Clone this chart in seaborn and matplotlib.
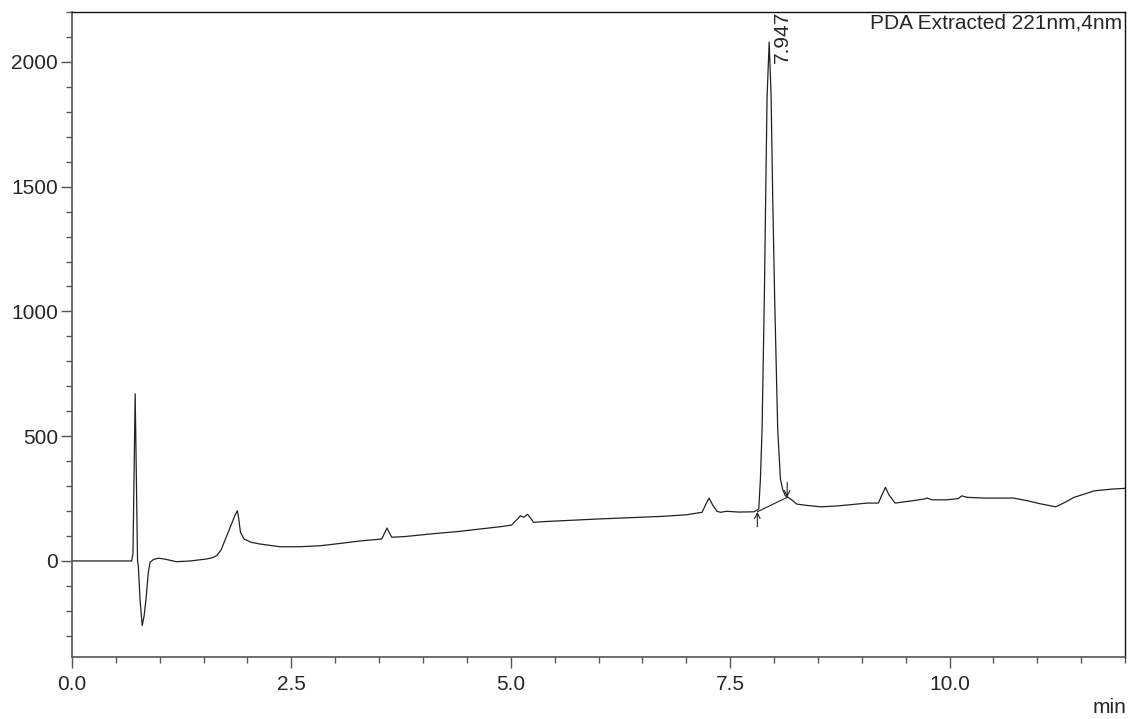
import matplotlib
matplotlib.use("Agg")
import matplotlib.pyplot as plt
import seaborn as sns
import pandas as pd
from matplotlib.ticker import MultipleLocator, FormatStrFormatter

# chromatogram trace (time in min, signal in mAU)
time_min = [0.00, 0.68, 0.695, 0.72, 0.735, 0.747, 0.756, 0.775, 0.80, 0.822, 0.844, 0.87,
            0.89, 0.93, 0.984, 1.05, 1.19, 1.35, 1.535, 1.60, 1.65, 1.70, 1.764, 1.82,
            1.86, 1.885, 1.90, 1.92, 1.96, 2.04, 2.14, 2.37, 2.60, 2.83, 3.05, 3.28,
            3.53, 3.56, 3.59, 3.62, 3.645, 3.80, 4.08, 4.40, 4.65, 4.90, 5.01, 5.06,
            5.11, 5.15, 5.19, 5.23, 5.26, 5.40, 5.98, 6.40, 6.74, 7.00, 7.18, 7.22,
            7.26, 7.30, 7.35, 7.39, 7.46, 7.60, 7.77, 7.826, 7.845, 7.864, 7.89, 7.905,
            7.921, 7.945, 7.967, 7.985, 8.007, 8.042, 8.073, 8.10, 8.13, 8.19, 8.26, 8.34,
            8.53, 8.70, 8.83, 9.06, 9.19, 9.23, 9.27, 9.31, 9.38, 9.55, 9.71, 9.745,
            9.80, 9.97, 10.10, 10.14, 10.20, 10.40, 10.73, 10.89, 11.05, 11.21, 11.30, 11.42,
            11.65, 11.85, 12.0]
signal = [0, 0, 30, 670, 300, 0, -19, -152, -259, -220, -152, -45,
          -5, 6, 11, 8, -3, 0, 8, 13, 21, 45, 101, 150,
          185, 201, 170, 115, 88, 75, 68, 57, 57, 61, 70, 80,
          88, 110, 132, 110, 95, 98, 108, 118, 128, 138, 144, 162,
          181, 175, 187, 170, 155, 158, 168, 174, 179, 185, 195, 225,
          252, 225, 199, 195, 199, 196, 197, 208, 328, 528, 1061, 1461,
          1861, 2080, 1861, 1461, 1061, 528, 328, 285, 261, 248, 228, 224,
          217, 220, 224, 232, 232, 265, 295, 265, 232, 240, 248, 252,
          245, 245, 250, 261, 255, 252, 252, 241, 228, 217, 232, 255,
          281, 288, 291]

peak_rt = 7.947
peak_label = "7.947"
peak_start = (7.81, 197)
peak_end = (8.15, 255)
detector = "PDA Extracted 221nm,4nm"

df = pd.DataFrame({"time": time_min, "signal": signal})

sns.set_style("white")
plt.rcParams["font.family"] = ["Liberation Sans", "DejaVu Sans"]

fig = plt.figure(figsize=(11.3, 7.19), dpi=100)
ax = fig.add_axes([0.0637, 0.0862, 0.9319, 0.8971])

sns.lineplot(data=df, x="time", y="signal", color="#222222", linewidth=0.9, ax=ax)

# integration baseline and start/end markers
ax.plot([peak_start[0], peak_end[0]], [peak_start[1], peak_end[1]], color="#222222", lw=0.8)
ax.annotate("", xy=(peak_start[0], peak_start[1]), xytext=(peak_start[0], peak_start[1] - 60),
            arrowprops=dict(arrowstyle="->", color="#222222", lw=0.8, shrinkA=0, shrinkB=0))
ax.annotate("", xy=(peak_end[0], peak_end[1]), xytext=(peak_end[0], peak_end[1] + 60),
            arrowprops=dict(arrowstyle="->", color="#222222", lw=0.8, shrinkA=0, shrinkB=0))

ax.text(peak_rt + 0.15, 1995, peak_label, rotation=90, ha="center", va="bottom", fontsize=15)
ax.text(0.997, 0.998, detector, transform=ax.transAxes, ha="right", va="top", fontsize=15)

ax.set_xlim(0, 12)
ax.set_ylim(-385, 2200)
ax.xaxis.set_major_locator(MultipleLocator(2.5))
ax.xaxis.set_minor_locator(MultipleLocator(0.5))
ax.yaxis.set_minor_locator(MultipleLocator(100))
ax.xaxis.set_major_formatter(FormatStrFormatter("%.1f"))
ax.set_yticks([0, 500, 1000, 1500, 2000])
ax.set_xlabel("")
ax.set_ylabel("")

ax.tick_params(which="major", direction="out", length=8, width=1, color="#555555",
               labelsize=15, pad=2, bottom=True, left=True)
ax.tick_params(which="minor", direction="out", length=4.5, width=1, color="#555555",
               bottom=True, left=True)
ax.tick_params(axis="x", which="major", pad=5)
for side in ["left", "bottom"]:
    ax.spines[side].set_color("#555555")
    ax.spines[side].set_linewidth(1.2)
for side in ["top", "right"]:
    ax.spines[side].set_color("#111111")
    ax.spines[side].set_linewidth(1.0)

fig.text(0.982, 0.003, "min", ha="center", va="bottom", fontsize=15)

fig.savefig("out.png", dpi=100)
